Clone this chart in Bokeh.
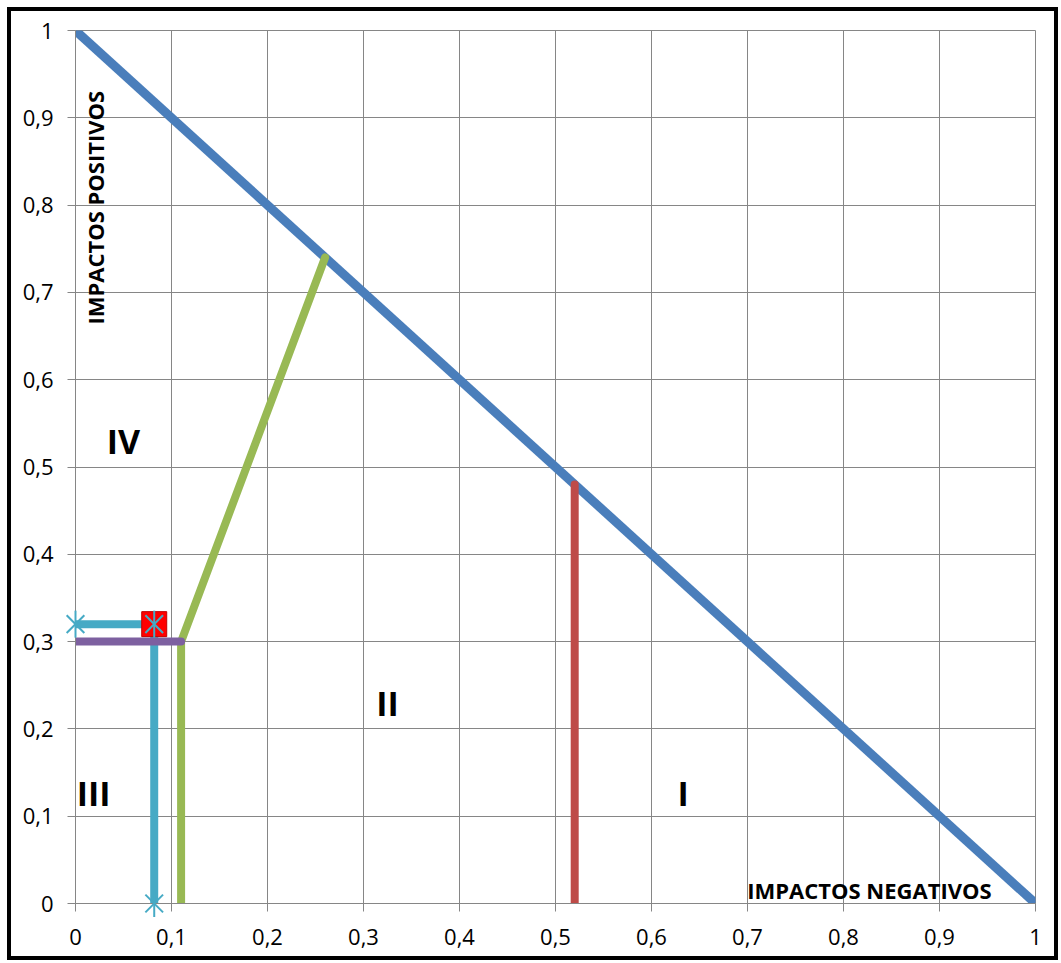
import math
from bokeh.plotting import figure
from bokeh.models import FixedTicker, Range1d
from bokeh.core.properties import value
from bokeh.embed import file_html
from bokeh.resources import INLINE

# ---- data ----
ticks = [0, 0.1, 0.2, 0.3, 0.4, 0.5, 0.6, 0.7, 0.8, 0.9, 1]
tick_labels = ["0", "0,1", "0,2", "0,3", "0,4", "0,5", "0,6", "0,7", "0,8", "0,9", "1"]

diag_x = [0, 1]
diag_y = [1, 0]
red_x = [0.52, 0.52]
red_y = [0, 0.48]
green_x = [0.11, 0.11, 0.26]
green_y = [0, 0.30, 0.74]
purple_x = [0, 0.11]
purple_y = [0.30, 0.30]
cyan_x = [0, 0.082, 0.082]
cyan_y = [0.32, 0.32, 0]
star_x = [0, 0.082, 0.082]
star_y = [0.32, 0, 0.32]
square_x = [0.082]
square_y = [0.32]

zone_labels = ["IV", "II", "III", "I"]
zone_x = [0.05, 0.325, 0.019, 0.633]
zone_y = [0.53, 0.23, 0.127, 0.127]

# ---- figure ----
FONT = "Open Sans"
FRAME_W, FRAME_H = 960, 873
MBL, MBR, MBT, MBB = 64, 27, 19, 61
p = figure(width=MBL + FRAME_W + MBR, height=MBT + FRAME_H + MBB,
           x_range=Range1d(0, 1), y_range=Range1d(0, 1),
           output_backend="svg", toolbar_location=None,
           min_border_left=MBL, min_border_right=MBR, min_border_top=MBT, min_border_bottom=MBB)
p.styles = {"border": "4px solid black", "margin-left": "7px", "margin-top": "7px",
            "background-color": "white"}
p.border_fill_alpha = 0
p.background_fill_color = "white"
p.outline_line_color = "#868686"

for ax in (p.xaxis[0], p.yaxis[0]):
    ax.ticker = FixedTicker(ticks=ticks)
    ax.major_label_overrides = {t: l for t, l in zip(ticks, tick_labels)}
    ax.axis_line_color = "#868686"
    ax.major_tick_line_color = "#868686"
    ax.major_tick_out = 8
    ax.major_tick_in = 0
    ax.minor_tick_line_color = None
    ax.major_label_text_font = FONT
    ax.major_label_text_font_size = "22px"
    ax.major_label_text_color = "black"
p.xaxis.major_label_standoff = 17
p.yaxis.major_label_standoff = 14

for g in (p.xgrid[0], p.ygrid[0]):
    g.ticker = FixedTicker(ticks=ticks)
    g.grid_line_color = "#868686"
    g.grid_line_width = 1

# ---- series ----
p.line(diag_x, diag_y, line_color="#4A7EBB", line_width=9)
p.line(red_x, red_y, line_color="#BE4B48", line_width=8, line_cap="round")
p.line(green_x, green_y, line_color="#98B954", line_width=8, line_cap="round", line_join="round")
p.line(cyan_x, cyan_y, line_color="#46AAC5", line_width=8, line_join="round")
p.line(purple_x, purple_y, line_color="#7D60A0", line_width=8, line_cap="round")

p.scatter(square_x, square_y, marker="square", size=25, fill_color="#FF0000",
          line_color="#C00000", line_width=1)

# star markers (x + vertical bar); overlay level so they may spill past the frame
p.scatter(star_x, star_y, marker="x", size=25, line_color="#46AAC5", line_width=2, level="overlay")
p.scatter(star_x, star_y, marker="dash", angle=math.pi / 2, size=27, line_color="#46AAC5",
          line_width=2, level="overlay")

# ---- texts ----
p.text(zone_x, zone_y, text=zone_labels, text_font=value(FONT), text_font_style="bold",
       text_font_size="34px", text_align="center", text_baseline="middle", text_color="black")
p.text([0.827], [0.016], text=["IMPACTOS NEGATIVOS"], text_font=value(FONT), text_font_style="bold",
       text_font_size="22px", text_align="center", text_baseline="middle", text_color="black")
p.text([0.0208], [0.797], text=["IMPACTOS POSITIVOS"], text_font=value(FONT), text_font_style="bold",
       text_font_size="22px", text_align="center", text_baseline="middle", text_color="black",
       angle=math.pi / 2)

open("out.html", "w").write(file_html(p, INLINE))
